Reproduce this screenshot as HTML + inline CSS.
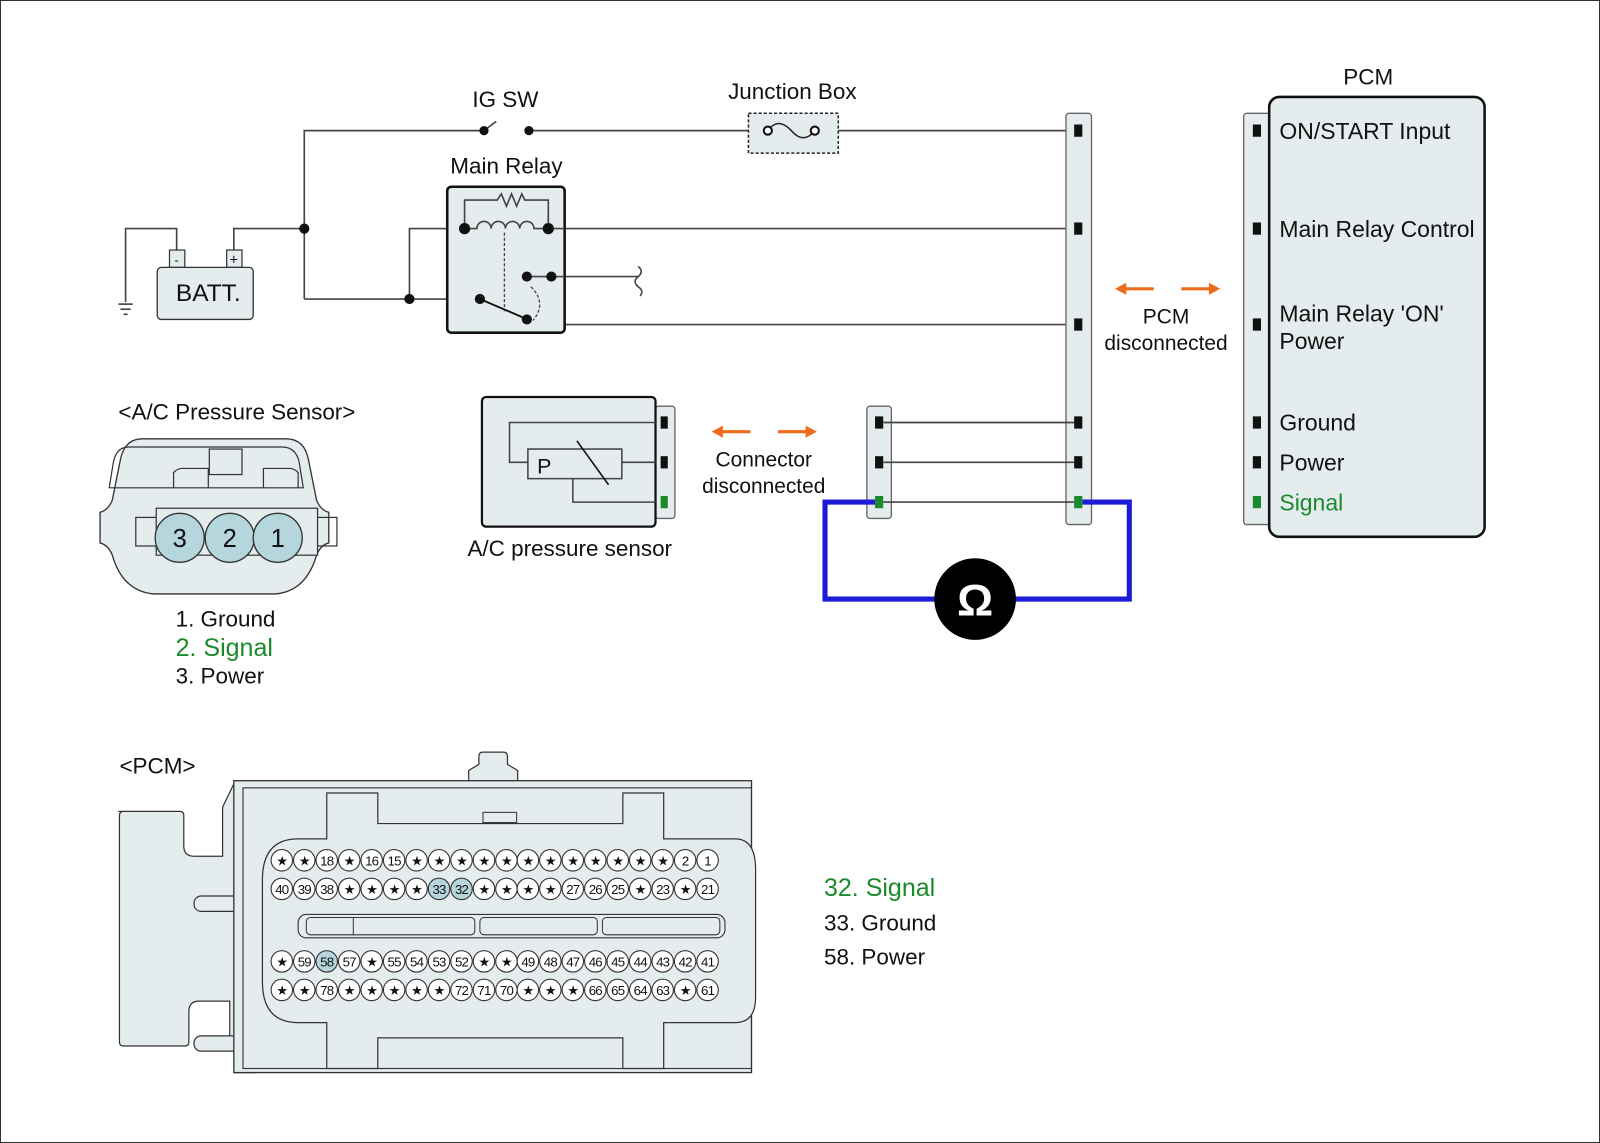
<!DOCTYPE html>
<html><head><meta charset="utf-8"><style>
html,body{margin:0;padding:0;background:#fff}
svg{display:block}
text{font-family:"Liberation Sans","DejaVu Sans",sans-serif;fill:#111}
</style></head><body>
<svg width="1600" height="1143" viewBox="0 0 1567 1120" preserveAspectRatio="none" xmlns="http://www.w3.org/2000/svg">
<rect x="0.5" y="0.5" width="1566" height="1119" fill="#fff" stroke="#333" stroke-width="1"/>
<g fill="none" stroke="#444" stroke-width="1.6">
<polyline points="298,293 298,128 474,128"/>
<line x1="474" y1="128" x2="486" y2="119"/>
<line x1="518" y1="128" x2="733" y2="128"/>
<line x1="821" y1="128" x2="1052" y2="128"/>
<polyline points="229,245 229,224 298,224"/>
<polyline points="173,245 173,224 123,224 123,296"/>
<line x1="116" y1="298" x2="130" y2="298"/>
<line x1="118" y1="303" x2="128" y2="303"/>
<line x1="121" y1="308" x2="125" y2="308"/>
<polyline points="298,293 470,293"/>
<polyline points="401,293 401,224 455,224"/>
<line x1="537" y1="224" x2="1052" y2="224"/>
<polyline points="516,271 625,271"/>
<path d="M625,261 q6,5 0,10 q-6,5 0,10 q6,4 2,9"/>
<polyline points="540,271 540,318 1052,318"/>
</g>
<rect x="733" y="111" width="88" height="39" fill="#e4ecee" stroke="#222" stroke-width="1.5" stroke-dasharray="3,2"/>
<path d="M752,128 q10,-14 23,0 q12,14 23,0" fill="none" stroke="#222" stroke-width="1.5"/>
<circle cx="752" cy="128" r="4" fill="#fff" stroke="#111" stroke-width="2"/>
<circle cx="798" cy="128" r="4" fill="#fff" stroke="#111" stroke-width="2"/>
<rect x="166" y="245" width="15" height="17" fill="#e4ecee" stroke="#333" stroke-width="1.2"/>
<rect x="222" y="245" width="15" height="17" fill="#e4ecee" stroke="#333" stroke-width="1.2"/>
<text x="173" y="259" font-size="13" text-anchor="middle">-</text>
<text x="229" y="259" font-size="14" text-anchor="middle">+</text>
<rect x="154" y="262" width="94" height="51" rx="4" fill="#e4ecee" stroke="#333" stroke-width="1.3"/>
<text x="204" y="295" font-size="24" text-anchor="middle">BATT.</text>
<rect x="438" y="183" width="115" height="143" rx="4" fill="#e4ecee" stroke="#111" stroke-width="2.5"/>
<g fill="none" stroke="#444" stroke-width="1.6">
<polyline points="455,224 455,196 487,196 491,190 496,202 501,190 506,202 511,190 514,196 537,196 537,224"/>
<path d="M455,224 h12 a7,7 0 0 1 14,0 a7,7 0 0 1 14,0 a7,7 0 0 1 14,0 a7,7 0 0 1 14,0 h14"/>
<polyline points="537,224 553,224"/>
<polyline points="516,271 553,271"/>
<line x1="494" y1="228" x2="494" y2="305" stroke-dasharray="3,2" stroke-width="1.3"/>
<path d="M520,281 q16,16 2,33" stroke-dasharray="3,2" stroke-width="1.3"/>
</g>
<line x1="470" y1="293" x2="512" y2="311" stroke="#111" stroke-width="1.8"/>
<g fill="#111">
<circle cx="298" cy="224" r="5"/><circle cx="401" cy="293" r="5"/><circle cx="470" cy="293" r="5"/>
<circle cx="455" cy="224" r="5.5"/><circle cx="537" cy="224" r="5.5"/>
<circle cx="516" cy="271" r="5"/><circle cx="540" cy="271" r="5"/><circle cx="516" cy="313" r="5"/>
<circle cx="474" cy="128" r="4.5"/><circle cx="518" cy="128" r="4.5"/>
</g>
<text x="495" y="105" font-size="22" text-anchor="middle">IG SW</text>
<text x="776" y="97" font-size="22" text-anchor="middle">Junction Box</text>
<text x="496" y="170" font-size="22" text-anchor="middle">Main Relay</text>
<rect x="1044" y="111" width="25" height="403" rx="3" fill="#e4ecee" stroke="#666" stroke-width="1.3"/>
<g fill="#111">
<rect x="1052" y="122" width="8" height="12"/><rect x="1052" y="218" width="8" height="12"/><rect x="1052" y="312" width="8" height="12"/>
<rect x="1052" y="408" width="8" height="12"/><rect x="1052" y="447" width="8" height="12"/>
</g>
<rect x="849" y="398" width="24" height="110" rx="3" fill="#e4ecee" stroke="#666" stroke-width="1.3"/>
<g fill="#111"><rect x="857" y="408" width="8" height="12"/><rect x="857" y="447" width="8" height="12"/></g>
<g fill="none" stroke="#444" stroke-width="1.6">
<line x1="865" y1="414" x2="1052" y2="414"/><line x1="865" y1="453" x2="1052" y2="453"/><line x1="865" y1="492" x2="1052" y2="492"/>
</g>
<polyline points="861,492 808,492 808,587 918,587" fill="none" stroke="#1b1bd8" stroke-width="5"/>
<polyline points="993,587 1106,587 1106,492 1060,492" fill="none" stroke="#1b1bd8" stroke-width="5"/>
<rect x="857" y="486" width="8" height="12" fill="#1a8a2a"/>
<rect x="1052" y="486" width="8" height="12" fill="#1a8a2a"/>
<circle cx="955" cy="587" r="40" fill="#000"/>
<text x="955" y="603" font-size="44" font-weight="bold" text-anchor="middle" style="fill:#fff">Ω</text>
<rect x="642" y="398" width="19" height="110" rx="3" fill="#e4ecee" stroke="#666" stroke-width="1.3"/>
<rect x="472" y="389" width="170" height="127" rx="4" fill="#e4ecee" stroke="#111" stroke-width="2.2"/>
<g fill="none" stroke="#444" stroke-width="1.5">
<polyline points="642,414 499,414 499,453 517,453"/>
<rect x="517" y="440" width="92" height="29"/>
<line x1="609" y1="453" x2="642" y2="453"/>
<polyline points="561,469 561,492 642,492"/>
<line x1="565" y1="432" x2="596" y2="475" stroke="#111"/>
</g>
<text x="526" y="464" font-size="21">P</text>
<rect x="647" y="408" width="7" height="12" fill="#111"/><rect x="647" y="447" width="7" height="12" fill="#111"/><rect x="647" y="486" width="7" height="12" fill="#1a8a2a"/>
<text x="558" y="545" font-size="22" text-anchor="middle">A/C pressure sensor</text>
<g stroke="#f06a1c" stroke-width="3" fill="#f06a1c">
<line x1="706" y1="423" x2="735" y2="423"/><polygon points="697,423 708,417 708,429" stroke="none"/>
<line x1="762" y1="423" x2="791" y2="423"/><polygon points="800,423 789,417 789,429" stroke="none"/>
<line x1="1101" y1="283" x2="1130" y2="283"/><polygon points="1092,283 1103,277 1103,289" stroke="none"/>
<line x1="1157" y1="283" x2="1186" y2="283"/><polygon points="1195,283 1184,277 1184,289" stroke="none"/>
</g>
<text x="748" y="457" font-size="20.5" text-anchor="middle">Connector</text>
<text x="748" y="483" font-size="20.5" text-anchor="middle">disconnected</text>
<text x="1142" y="317" font-size="20.5" text-anchor="middle">PCM</text>
<text x="1142" y="343" font-size="20.5" text-anchor="middle">disconnected</text>
<rect x="1218" y="111" width="27" height="403" rx="3" fill="#e4ecee" stroke="#666" stroke-width="1.3"/>
<rect x="1243" y="95" width="211" height="431" rx="10" fill="#e4ecee" stroke="#111" stroke-width="2.5"/>
<g fill="#111">
<rect x="1227" y="122" width="8" height="12"/><rect x="1227" y="218" width="8" height="12"/><rect x="1227" y="312" width="8" height="12"/>
<rect x="1227" y="408" width="8" height="12"/><rect x="1227" y="447" width="8" height="12"/>
</g>
<rect x="1227" y="486" width="8" height="12" fill="#1a8a2a"/>
<text x="1340" y="83" font-size="22" text-anchor="middle">PCM</text>
<g font-size="22.5">
<text x="1253" y="136">ON/START Input</text>
<text x="1253" y="232">Main Relay Control</text>
<text x="1253" y="315">Main Relay 'ON'</text>
<text x="1253" y="342">Power</text>
<text x="1253" y="422">Ground</text>
<text x="1253" y="461">Power</text>
<text x="1253" y="500" style="fill:#1a8a2a">Signal</text>
</g>
<text x="232" y="411" font-size="22" text-anchor="middle">&lt;A/C Pressure Sensor&gt;</text>
<path d="M170,430 h110 q18,0 22,20 l8,40 q4,10 12,12 v30 q-8,2 -12,12 q-10,35 -40,38 h-120 q-30,-3 -40,-38 q-4,-10 -12,-12 v-30 q8,-2 12,-12 l8,-40 q4,-20 22,-20z" fill="#e4ecee" stroke="#333" stroke-width="1.3"/>
<path d="M176,438 h100 q14,0 17,15 l4,25 h-190 l4,-25 q3,-15 15,-15z" fill="none" stroke="#333" stroke-width="1.2"/>
<rect x="205" y="440" width="32" height="25" fill="#e4ecee" stroke="#333" stroke-width="1.2"/>
<path d="M170,478 v-15 q4,-4 8,-4 h26 v19 M292,478 v-15 q-4,-4 -8,-4 h-26 v19" fill="none" stroke="#333" stroke-width="1.2"/>
<rect x="133" y="507" width="197" height="28" fill="none" stroke="#333" stroke-width="1.2"/>
<rect x="153" y="498" width="158" height="46" fill="#e4ecee" stroke="#333" stroke-width="1.2"/>
<g fill="#b4d6dc" stroke="#333" stroke-width="1.3">
<circle cx="176" cy="527" r="24"/><circle cx="225" cy="527" r="24"/><circle cx="272" cy="527" r="24"/>
</g>
<g font-size="25" text-anchor="middle"><text x="176" y="536">3</text><text x="225" y="536">2</text><text x="272" y="536">1</text></g>
<text x="172" y="614" font-size="22">1. Ground</text>
<text x="172" y="643" font-size="24.5" style="fill:#1a8a2a">2. Signal</text>
<text x="172" y="670" font-size="22">3. Power</text>
<text x="117" y="758" font-size="22">&lt;PCM&gt;</text>
<path d="M116,795 h60 q4,0 4,4 v30 q0,10 10,10 h28 v-48 l12,-25 h20 v285 h-20 v-20 q-5,-5 -5,-10 v-40 h-30 q-10,0 -10,10 v30 q0,4 -4,4 h-60 q-4,0 -4,-4 v-222 q0,-4 4,-4z" fill="#e4ecee" stroke="#333" stroke-width="1.2"/>
<rect x="190" y="878" width="45" height="15" rx="7" fill="#e4ecee" stroke="#333" stroke-width="1.2"/>
<rect x="190" y="1015" width="45" height="15" rx="7" fill="#e4ecee" stroke="#333" stroke-width="1.2"/>
<path d="M459,765 v-10 l10,-6 v-8 q0,-4 4,-4 h20 q4,0 4,4 v8 l10,6 v10" fill="#e4ecee" stroke="#333" stroke-width="1.2"/>
<rect x="229" y="765" width="507" height="286" fill="#e4ecee" stroke="#333" stroke-width="1.3"/>
<rect x="238" y="772" width="498" height="275" fill="none" stroke="#333" stroke-width="1.1"/>
<path d="M292,822 h28 v-45 h50 v30 h240 v-30 h40 v45 h70 q20,0 20,30 v125 q0,25 -20,25 h-70 v45 h-40 v-30 h-240 v30 h-50 v-45 h-28 q-35,0 -35,-40 v-100 q0,-40 35,-40z" fill="#e4ecee" stroke="#333" stroke-width="1.2"/>
<rect x="473" y="796" width="33" height="10" fill="#e4ecee" stroke="#333" stroke-width="1"/>
<rect x="292" y="896" width="418" height="23" rx="8" fill="#e4ecee" stroke="#333" stroke-width="1.1"/>
<rect x="300" y="899" width="165" height="17" rx="4" fill="none" stroke="#333" stroke-width="1"/>
<rect x="470" y="899" width="115" height="17" rx="4" fill="none" stroke="#333" stroke-width="1"/>
<rect x="590" y="899" width="115" height="17" rx="4" fill="none" stroke="#333" stroke-width="1"/>
<line x1="346" y1="899" x2="346" y2="916" stroke="#333"/>
<g fill="#fff" stroke="#333" stroke-width="1.1">
<circle cx="276" cy="843" r="10.5"/><circle cx="298" cy="843" r="10.5"/><circle cx="320" cy="843" r="10.5"/><circle cx="342" cy="843" r="10.5"/><circle cx="364" cy="843" r="10.5"/><circle cx="386" cy="843" r="10.5"/><circle cx="408" cy="843" r="10.5"/><circle cx="430" cy="843" r="10.5"/><circle cx="452" cy="843" r="10.5"/><circle cx="474" cy="843" r="10.5"/><circle cx="496" cy="843" r="10.5"/><circle cx="517" cy="843" r="10.5"/><circle cx="539" cy="843" r="10.5"/><circle cx="561" cy="843" r="10.5"/><circle cx="583" cy="843" r="10.5"/><circle cx="605" cy="843" r="10.5"/><circle cx="627" cy="843" r="10.5"/><circle cx="649" cy="843" r="10.5"/><circle cx="671" cy="843" r="10.5"/><circle cx="693" cy="843" r="10.5"/>
<circle cx="276" cy="871" r="10.5"/><circle cx="298" cy="871" r="10.5"/><circle cx="320" cy="871" r="10.5"/><circle cx="342" cy="871" r="10.5"/><circle cx="364" cy="871" r="10.5"/><circle cx="386" cy="871" r="10.5"/><circle cx="408" cy="871" r="10.5"/><circle cx="430" cy="871" r="10.5" fill="#b4d6dc"/><circle cx="452" cy="871" r="10.5" fill="#b4d6dc"/><circle cx="474" cy="871" r="10.5"/><circle cx="496" cy="871" r="10.5"/><circle cx="517" cy="871" r="10.5"/><circle cx="539" cy="871" r="10.5"/><circle cx="561" cy="871" r="10.5"/><circle cx="583" cy="871" r="10.5"/><circle cx="605" cy="871" r="10.5"/><circle cx="627" cy="871" r="10.5"/><circle cx="649" cy="871" r="10.5"/><circle cx="671" cy="871" r="10.5"/><circle cx="693" cy="871" r="10.5"/>
<circle cx="276" cy="942" r="10.5"/><circle cx="298" cy="942" r="10.5"/><circle cx="320" cy="942" r="10.5" fill="#b4d6dc"/><circle cx="342" cy="942" r="10.5"/><circle cx="364" cy="942" r="10.5"/><circle cx="386" cy="942" r="10.5"/><circle cx="408" cy="942" r="10.5"/><circle cx="430" cy="942" r="10.5"/><circle cx="452" cy="942" r="10.5"/><circle cx="474" cy="942" r="10.5"/><circle cx="496" cy="942" r="10.5"/><circle cx="517" cy="942" r="10.5"/><circle cx="539" cy="942" r="10.5"/><circle cx="561" cy="942" r="10.5"/><circle cx="583" cy="942" r="10.5"/><circle cx="605" cy="942" r="10.5"/><circle cx="627" cy="942" r="10.5"/><circle cx="649" cy="942" r="10.5"/><circle cx="671" cy="942" r="10.5"/><circle cx="693" cy="942" r="10.5"/>
<circle cx="276" cy="970" r="10.5"/><circle cx="298" cy="970" r="10.5"/><circle cx="320" cy="970" r="10.5"/><circle cx="342" cy="970" r="10.5"/><circle cx="364" cy="970" r="10.5"/><circle cx="386" cy="970" r="10.5"/><circle cx="408" cy="970" r="10.5"/><circle cx="430" cy="970" r="10.5"/><circle cx="452" cy="970" r="10.5"/><circle cx="474" cy="970" r="10.5"/><circle cx="496" cy="970" r="10.5"/><circle cx="517" cy="970" r="10.5"/><circle cx="539" cy="970" r="10.5"/><circle cx="561" cy="970" r="10.5"/><circle cx="583" cy="970" r="10.5"/><circle cx="605" cy="970" r="10.5"/><circle cx="627" cy="970" r="10.5"/><circle cx="649" cy="970" r="10.5"/><circle cx="671" cy="970" r="10.5"/><circle cx="693" cy="970" r="10.5"/>
</g>
<g font-size="13" text-anchor="middle" letter-spacing="-0.8">
<text x="276" y="848">★</text><text x="298" y="848">★</text><text x="320" y="848">18</text><text x="342" y="848">★</text><text x="364" y="848">16</text><text x="386" y="848">15</text><text x="408" y="848">★</text><text x="430" y="848">★</text><text x="452" y="848">★</text><text x="474" y="848">★</text><text x="496" y="848">★</text><text x="517" y="848">★</text><text x="539" y="848">★</text><text x="561" y="848">★</text><text x="583" y="848">★</text><text x="605" y="848">★</text><text x="627" y="848">★</text><text x="649" y="848">★</text><text x="671" y="848">2</text><text x="693" y="848">1</text>
<text x="276" y="876">40</text><text x="298" y="876">39</text><text x="320" y="876">38</text><text x="342" y="876">★</text><text x="364" y="876">★</text><text x="386" y="876">★</text><text x="408" y="876">★</text><text x="430" y="876">33</text><text x="452" y="876">32</text><text x="474" y="876">★</text><text x="496" y="876">★</text><text x="517" y="876">★</text><text x="539" y="876">★</text><text x="561" y="876">27</text><text x="583" y="876">26</text><text x="605" y="876">25</text><text x="627" y="876">★</text><text x="649" y="876">23</text><text x="671" y="876">★</text><text x="693" y="876">21</text>
<text x="276" y="947">★</text><text x="298" y="947">59</text><text x="320" y="947">58</text><text x="342" y="947">57</text><text x="364" y="947">★</text><text x="386" y="947">55</text><text x="408" y="947">54</text><text x="430" y="947">53</text><text x="452" y="947">52</text><text x="474" y="947">★</text><text x="496" y="947">★</text><text x="517" y="947">49</text><text x="539" y="947">48</text><text x="561" y="947">47</text><text x="583" y="947">46</text><text x="605" y="947">45</text><text x="627" y="947">44</text><text x="649" y="947">43</text><text x="671" y="947">42</text><text x="693" y="947">41</text>
<text x="276" y="975">★</text><text x="298" y="975">★</text><text x="320" y="975">78</text><text x="342" y="975">★</text><text x="364" y="975">★</text><text x="386" y="975">★</text><text x="408" y="975">★</text><text x="430" y="975">★</text><text x="452" y="975">72</text><text x="474" y="975">71</text><text x="496" y="975">70</text><text x="517" y="975">★</text><text x="539" y="975">★</text><text x="561" y="975">★</text><text x="583" y="975">66</text><text x="605" y="975">65</text><text x="627" y="975">64</text><text x="649" y="975">63</text><text x="671" y="975">★</text><text x="693" y="975">61</text>
</g>
<text x="807" y="878" font-size="24.5" style="fill:#1a8a2a">32. Signal</text>
<text x="807" y="912" font-size="22">33. Ground</text>
<text x="807" y="945" font-size="22">58. Power</text>
</svg>
</body></html>
